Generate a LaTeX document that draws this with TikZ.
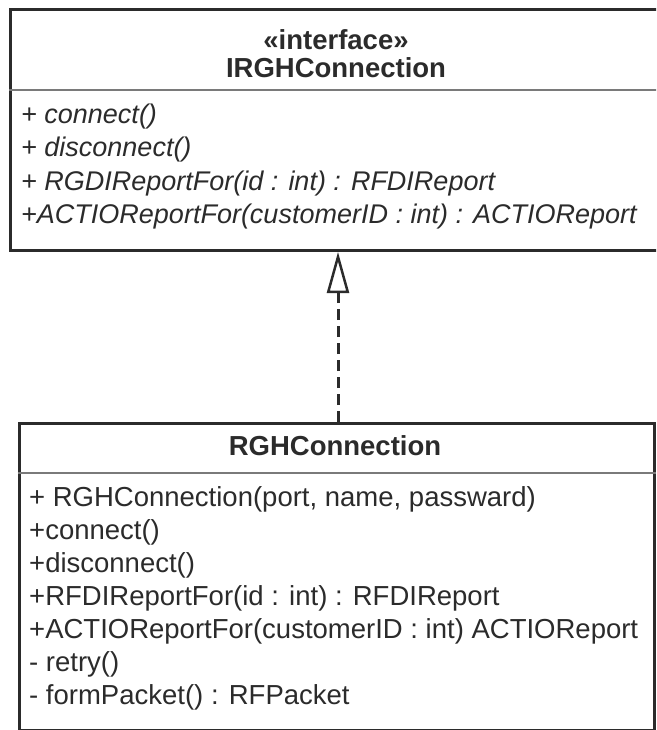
\documentclass[tikz,border=0pt]{standalone}
\usepackage{fontspec}
\setmainfont{Liberation Sans}
\usetikzlibrary{arrows.meta}

\definecolor{ink}{HTML}{2B2B2B}
\definecolor{rulegray}{HTML}{7A7A7A}

\tikzset{
  classbox/.style={draw=ink, line width=3pt, fill=white, anchor=north west, inner sep=0pt},
  divider/.style={draw=rulegray, line width=2.5pt},
  title/.style={font=\bfseries\fontsize{27.5}{33}\selectfont, text=ink, anchor=base, inner sep=0pt},
  member/.style={font=\fontsize{27.5}{33}\selectfont, text=ink, anchor=base west, inner sep=0pt},
  absmember/.style={member, font=\itshape\fontsize{27}{33}\selectfont},
  realizes/.style={draw=ink, line width=3pt, dash pattern=on 11pt off 6pt,
    -{Triangle[open, length=41pt, width=22pt, line width=2.5pt]}}
}

\begin{document}
\begin{tikzpicture}[x=1pt, y=-1pt]
  \useasboundingbox (0,0) rectangle (656,730);
  \clip (0,0) rectangle (656,730);

  % interface
  \node[classbox, minimum width=658pt, minimum height=241pt] (iface) at (9,8) {};
  \draw[divider] (iface.west |- 0,90) -- (iface.east |- 0,90);
  \node[title] (stereo) at (336,50) {«interface»};
  \node[title] (ifacename) at (336,78) {IRGHConnection};
  \node[absmember] (iop1) at (21,124) {+ connect()};
  \node[absmember] (iop2) at (21,157) {+ disconnect()};
  \node[absmember] (iop3) at (21,190) {+ RGDIReportFor(id : int) : RFDIReport};
  \node[absmember] (iop4) at (21,223) {+ACTIOReportFor(customerID : int) : ACTIOReport};

  % implementing class
  \node[classbox, minimum width=635.5pt, minimum height=307pt] (impl) at (17.5,422) {};
  \draw[divider] (impl.west |- 0,473) -- (impl.east |- 0,473);
  \node[title] (implname) at (335,455) {RGHConnection};
  \node[member] (op1) at (29,506) {+ RGHConnection(port, name, passward)};
  \node[member] (op2) at (29,539) {+connect()};
  \node[member] (op3) at (29,572) {+disconnect()};
  \node[member] (op4) at (29,605) {+RFDIReportFor(id : int) : RFDIReport};
  \node[member] (op5) at (29,638) {+ACTIOReportFor(customerID : int) ACTIOReport};
  \node[member] (op6) at (29,671) {- retry()};
  \node[member] (op7) at (29,704) {- formPacket() : RFPacket};

  % realization
  \coordinate (tail) at (338,422);
  \draw[realizes] (tail) -- (tail |- iface.south);
\end{tikzpicture}
\end{document}
